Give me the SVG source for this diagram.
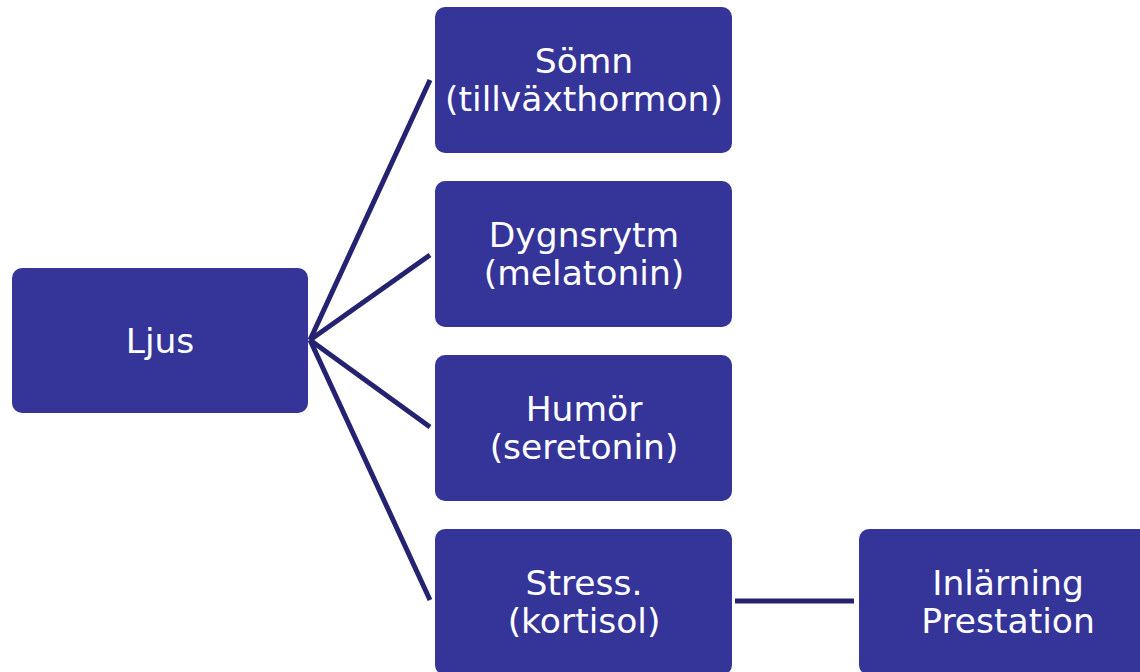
<svg xmlns="http://www.w3.org/2000/svg" width="1140" height="672" viewBox="0 0 1140 672">
<style>
.box{fill:#353499;}
.t{font-family:"DejaVu Sans","Verdana",sans-serif;font-size:34.5px;fill:#ffffff;text-anchor:middle;}
.c{stroke:#25236f;stroke-width:5;fill:none;stroke-linecap:butt;}
</style>
<rect width="1140" height="672" fill="#ffffff"/>
<g id="connectors">
<line class="c" x1="310" y1="340" x2="430" y2="80"/>
<line class="c" x1="310" y1="340" x2="430" y2="255"/>
<line class="c" x1="310" y1="340" x2="430" y2="427"/>
<line class="c" x1="310" y1="340" x2="430" y2="600"/>
<line class="c" x1="735" y1="601" x2="854" y2="601"/>
</g>
<g id="ljus">
<rect class="box" x="12" y="268" width="296" height="145" rx="10"/>
<text class="t" x="160" y="353">Ljus</text>
</g>
<g id="somn">
<rect class="box" x="435" y="7" width="297" height="146" rx="10"/>
<text class="t" x="584" y="73">Sömn</text>
<text class="t" x="584" y="111">(tillväxthormon)</text>
</g>
<g id="dygnsrytm">
<rect class="box" x="435" y="181" width="297" height="146" rx="10"/>
<text class="t" x="584" y="247">Dygnsrytm</text>
<text class="t" x="584" y="285">(melatonin)</text>
</g>
<g id="humor">
<rect class="box" x="435" y="355" width="297" height="146" rx="10"/>
<text class="t" x="584" y="421">Humör</text>
<text class="t" x="584" y="459">(seretonin)</text>
</g>
<g id="stress">
<rect class="box" x="435" y="529" width="297" height="146" rx="10"/>
<text class="t" x="584" y="595">Stress.</text>
<text class="t" x="584" y="633">(kortisol)</text>
</g>
<g id="inlarning">
<rect class="box" x="859" y="529" width="297" height="146" rx="10"/>
<text class="t" x="1008" y="595">Inlärning</text>
<text class="t" x="1008" y="633">Prestation</text>
</g>
</svg>
